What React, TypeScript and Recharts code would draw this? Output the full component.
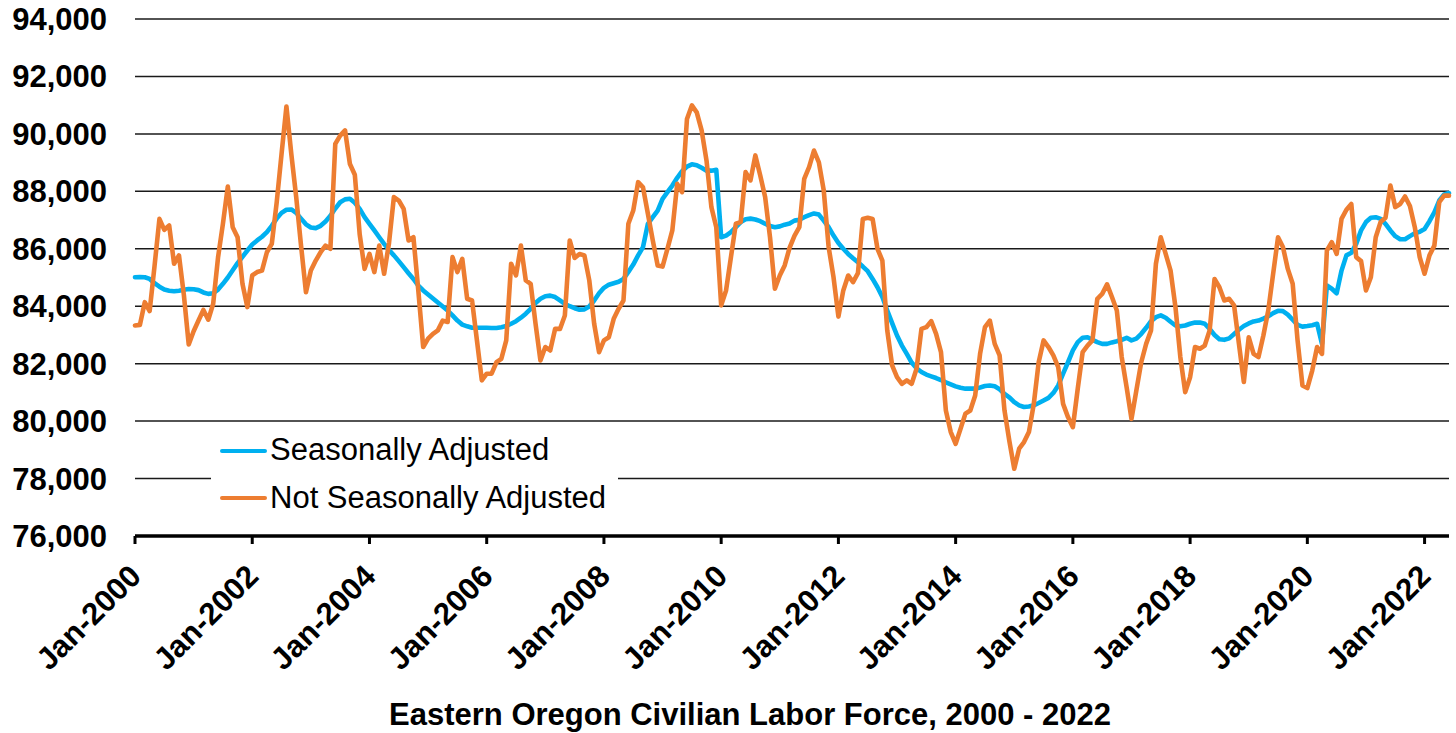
import React from "react";
import { LineChart, Line, XAxis, YAxis, CartesianGrid } from "recharts";

const FONT = "'Liberation Sans', Arial, Helvetica, sans-serif";
const FS = 31;

const monthNames = ["Jan", "Feb", "Mar", "Apr", "May", "Jun", "Jul", "Aug", "Sep", "Oct", "Nov", "Dec"];
const startYear = 2000;
const monthCount = 270; // Jan-2000 .. Jun-2022

const tickLabels = [
  "Jan-2000", "Jan-2002", "Jan-2004", "Jan-2006", "Jan-2008", "Jan-2010",
  "Jan-2012", "Jan-2014", "Jan-2016", "Jan-2018", "Jan-2020", "Jan-2022",
];

const yTicks = [76000, 78000, 80000, 82000, 84000, 86000, 88000, 90000, 92000, 94000];

const seasonallyAdjusted = [
  85010, 85020, 85010, 84950, 84800, 84680, 84580, 84540, 84520, 84540,
  84570, 84600, 84590, 84560, 84480, 84430, 84450, 84580, 84780, 85000,
  85250, 85500, 85720, 85940, 86150, 86290, 86420, 86580, 86800, 87050,
  87250, 87360, 87370, 87250, 87050, 86850, 86740, 86720, 86800, 86950,
  87150, 87400, 87620, 87720, 87740, 87600, 87390, 87100, 86870, 86640,
  86400, 86170, 85960, 85770, 85570, 85360, 85150, 84950, 84720, 84550,
  84410, 84270, 84130, 83990, 83850, 83680, 83500, 83360, 83300, 83250,
  83250, 83250, 83250, 83240, 83240, 83270, 83310, 83390, 83480, 83600,
  83740, 83910, 84110, 84260, 84350, 84370, 84320, 84200, 84080, 84000,
  83930, 83880, 83890, 83990, 84200, 84450, 84640, 84750, 84800, 84850,
  84950, 85190, 85450, 85770, 86060, 86870, 87100, 87330, 87740, 87970,
  88200, 88470, 88700, 88860, 88940, 88910, 88820, 88720, 88720, 88750,
  86400, 86460, 86580, 86750, 86930, 87030, 87050, 87020, 86960, 86870,
  86790, 86750, 86780, 86840, 86880, 86980, 87010, 87100, 87170, 87230,
  87190, 86980, 86750, 86460, 86200, 86000, 85820, 85670, 85530, 85380,
  85220, 84950, 84660, 84320, 83850, 83410, 82980, 82630, 82340, 82040,
  81840, 81710, 81620, 81560, 81500, 81430, 81350, 81280, 81210, 81160,
  81130, 81130, 81130, 81170, 81220, 81240, 81210, 81110, 80950, 80830,
  80660, 80550, 80490, 80510, 80550, 80630, 80720, 80810, 80980, 81240,
  81650, 82050, 82460, 82750, 82900, 82920, 82830, 82750, 82690, 82690,
  82740, 82780, 82830, 82900, 82810, 82870, 83040, 83250, 83480, 83620,
  83680, 83600, 83460, 83330, 83300, 83330, 83390, 83430, 83430, 83390,
  83210, 83000, 82850, 82830, 82880, 83030, 83180, 83310, 83400, 83470,
  83500, 83570, 83650, 83760, 83840, 83830, 83710, 83530, 83350, 83290,
  83310, 83340, 83390, 82690, 84720, 84610, 84450, 85240, 85770, 85860,
  86170, 86640, 86930, 87080, 87100, 87040, 86870, 86640, 86440, 86330,
  86330, 86440, 86540, 86590, 86690, 86960, 87270, 87680, 87890, 87940,
];

const notSeasonallyAdjusted = [
  83330, 83350, 84140, 83830, 85400, 87040, 86660, 86810, 85480, 85770,
  84400, 82670, 83130, 83500, 83870, 83530, 84080, 85700, 86870, 88170,
  86750, 86400, 84780, 83970, 85070, 85190, 85240, 85880, 86170, 87600,
  89300, 90950, 89300, 87800, 86100, 84490, 85240, 85590, 85880, 86110,
  86000, 89650, 89940, 90120, 88950, 88580, 86500, 85300, 85820, 85190,
  86110, 85130, 86200, 87800, 87680, 87390, 86290, 86400, 84550, 82580,
  82870, 83040, 83160, 83500, 83450, 85710, 85190, 85650, 84260, 84200,
  82810, 81420, 81650, 81650, 82050, 82170, 82810, 85480, 85070, 86110,
  84900, 84780, 83390, 82110, 82580, 82460, 83210, 83210, 83680, 86290,
  85680, 85820, 85770, 84900, 83390, 82400, 82810, 82920, 83560, 83910,
  84200, 86870, 87330, 88320, 88140, 87220, 86290, 85420, 85380, 86000,
  86640, 88260, 87970, 90520, 90990, 90750, 90120, 89070, 87450, 86750,
  84030, 84550, 85710, 86870, 86930, 88670, 88380, 89250, 88550, 87800,
  86400, 84610, 85070, 85420, 86030, 86450, 86750, 88430, 88840, 89420,
  89010, 88030, 86060, 85010, 83640, 84550, 85070, 84840, 85150, 87040,
  87080, 87040, 86000, 85590, 83160, 81940, 81530, 81300, 81420, 81300,
  81820, 83210, 83270, 83480, 83040, 82400, 80370, 79620, 79210, 79730,
  80260, 80370, 80890, 82340, 83270, 83500, 82690, 82290, 80370, 79300,
  78340, 79040, 79270, 79620, 80600, 82050, 82810, 82580, 82290, 81880,
  80600, 80140, 79790, 81130, 82400, 82630, 82810, 84260, 84430, 84760,
  84320, 83850, 82230, 81180, 80080, 81070, 82050, 82690, 83160, 85480,
  86400, 85820, 85240, 83970, 82230, 81010, 81530, 82580, 82520, 82630,
  83160, 84950, 84660, 84200, 84260, 84030, 82690, 81360, 82920, 82340,
  82230, 82980, 83850, 85130, 86400, 86060, 85300, 84780, 82810, 81240,
  81150, 81760, 82580, 82340, 85940, 86230, 85820, 87040, 87360, 87560,
  85710, 85570, 84550, 85010, 86400, 86930, 87080, 88200, 87450, 87560,
  87820, 87490, 86750, 85710, 85130, 85770, 86110, 87620, 87850, 87850,
];

const months: string[] = [];
for (let i = 0; i < monthCount; i++) {
  months.push(`${monthNames[i % 12]}-${startYear + Math.floor(i / 12)}`);
}

const data = months.map((m, i) => ({
  month: m,
  sa: seasonallyAdjusted[i],
  nsa: notSeasonallyAdjusted[i],
}));

const BLUE = "#00B0F0";
const ORANGE = "#ED7D31";

const XTick = (props: any) => {
  const { x, y, payload } = props;
  const ax = x + 8;
  const ay = y + 34;
  return (
    <text
      x={ax}
      y={ay}
      textAnchor="end"
      transform={`rotate(-45 ${ax} ${ay})`}
      fontFamily={FONT}
      fontWeight={700}
      fontSize={FS}
      fill="#000"
    >
      {payload.value}
    </text>
  );
};

const fmt = (v: number) => v.toLocaleString("en-US");

export default function App() {
  return (
    <div style={{ position: "absolute", left: 0, top: 0, width: 1456, height: 733, background: "#fff" }}>
      <LineChart
        width={1456}
        height={733}
        data={data}
        margin={{ top: 19, right: 7, bottom: 0, left: 0 }}
      >
        <CartesianGrid vertical={false} stroke="#1a1a1a" strokeWidth={1.5} />
        <XAxis
          dataKey="month"
          ticks={tickLabels}
          interval={0}
          height={197}
          tick={<XTick />}
          tickSize={8}
          tickMargin={0}
          tickLine={{ stroke: "#000", strokeWidth: 3 }}
          axisLine={{ stroke: "#000", strokeWidth: 3.5 }}
          padding={{ left: 0, right: 0 }}
        />
        <YAxis
          width={135}
          domain={[76000, 94000]}
          ticks={yTicks}
          interval={0}
          tickFormatter={fmt}
          axisLine={false}
          tickLine={false}
          tickSize={0}
          tickMargin={28}
          tick={{ fill: "#000", fontFamily: FONT, fontWeight: 700, fontSize: FS }}
        />
        <Line
          type="linear"
          dataKey="sa"
          stroke={BLUE}
          strokeWidth={4.6}
          dot={false}
          strokeLinejoin="round"
          strokeLinecap="round"
          isAnimationActive={false}
        />
        <Line
          type="linear"
          dataKey="nsa"
          stroke={ORANGE}
          strokeWidth={4.6}
          dot={false}
          strokeLinejoin="round"
          strokeLinecap="round"
          isAnimationActive={false}
        />
      </LineChart>

      {/* Legend */}
      <div
        style={{
          position: "absolute",
          left: 211,
          top: 425,
          width: 407,
          height: 100,
          background: "#fff",
          fontFamily: FONT,
          fontSize: FS,
          color: "#000",
        }}
      >
        <div style={{ position: "absolute", left: 9, top: 23.5, width: 47, height: 4.6, background: BLUE, borderRadius: 2 }} />
        <div style={{ position: "absolute", left: 59, top: 9, lineHeight: 1, whiteSpace: "nowrap" }}>Seasonally Adjusted</div>
        <div style={{ position: "absolute", left: 9, top: 70.5, width: 47, height: 4.6, background: ORANGE, borderRadius: 2 }} />
        <div style={{ position: "absolute", left: 59, top: 57, lineHeight: 1, whiteSpace: "nowrap" }}>Not Seasonally Adjusted</div>
      </div>

      {/* Title */}
      <div
        style={{
          position: "absolute",
          left: 0,
          width: 1500,
          top: 699,
          textAlign: "center",
          fontFamily: FONT,
          fontWeight: 700,
          fontSize: FS,
          lineHeight: 1,
          color: "#000",
          whiteSpace: "nowrap",
        }}
      >
        Eastern Oregon Civilian Labor Force, 2000 - 2022
      </div>
    </div>
  );
}
